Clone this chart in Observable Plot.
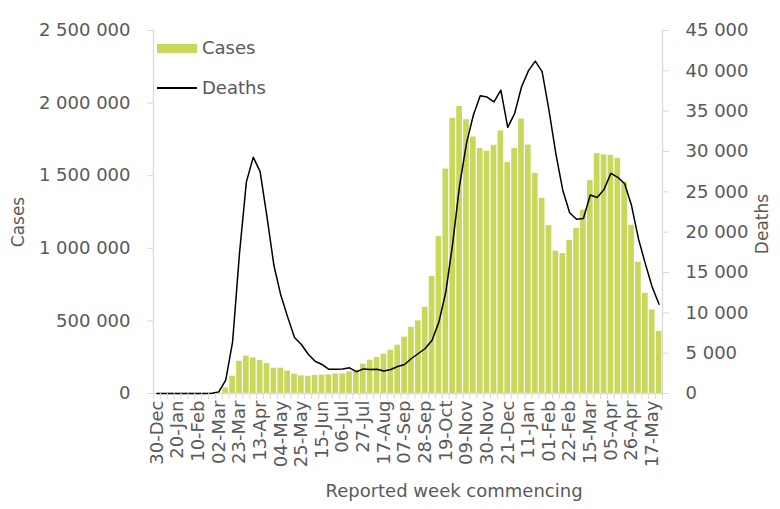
<!DOCTYPE html>
<html>
<head>
<meta charset="utf-8">
<script src="https://cdn.jsdelivr.net/npm/d3@7"></script>
<script src="https://cdn.jsdelivr.net/npm/@observablehq/plot@0.6"></script>
<style>
  html, body { margin: 0; padding: 0; background: #fff; }
  #wrap { position: relative; width: 780px; height: 509px; font-family: "DejaVu Sans", sans-serif; color: #595959; }
  .leg { position: absolute; font-size: 18px; line-height: 1; color: #595959; }
  .sw { position: absolute; }
</style>
</head>
<body>
<div id="wrap">
  <div id="chart"></div>
  <div class="sw" style="left:157px;top:44px;width:40px;height:9px;background:#c9d75c;"></div>
  <div class="leg" style="left:202px;top:39px;">Cases</div>
  <div class="sw" style="left:157px;top:87px;width:40px;height:2px;background:#000;"></div>
  <div class="leg" style="left:202px;top:79px;">Deaths</div>
</div>
<script>
// Week commencing labels (30-Dec-2019 to 24-May-2021)
const weeks = [
  "30-Dec","06-Jan","13-Jan","20-Jan","27-Jan","03-Feb","10-Feb","17-Feb","24-Feb","02-Mar",
  "09-Mar","16-Mar","23-Mar","30-Mar","06-Apr","13-Apr","20-Apr","27-Apr","04-May","11-May",
  "18-May","25-May","01-Jun","08-Jun","15-Jun","22-Jun","29-Jun","06-Jul","13-Jul","20-Jul",
  "27-Jul","03-Aug","10-Aug","17-Aug","24-Aug","31-Aug","07-Sep","14-Sep","21-Sep","28-Sep",
  "05-Oct","12-Oct","19-Oct","26-Oct","02-Nov","09-Nov","16-Nov","23-Nov","30-Nov","07-Dec",
  "14-Dec","21-Dec","28-Dec","04-Jan","11-Jan","18-Jan","25-Jan","01-Feb","08-Feb","15-Feb",
  "22-Feb","01-Mar","08-Mar","15-Mar","22-Mar","29-Mar","05-Apr","12-Apr","19-Apr","26-Apr",
  "03-May","10-May","17-May","24-May"
];
const cases = [
  0,0,0,0,0,0,0,0,0,2000,
  39000,119000,222000,257000,245000,227000,206000,174000,174000,154000,
  133000,122000,119000,124000,126000,128000,135000,135000,149000,156000,
  202000,229000,248000,271000,298000,333000,388000,456000,500000,594000,
  807000,1080000,1546000,1895000,1977000,1886000,1766000,1688000,1668000,1709000,
  1808000,1590000,1688000,1890000,1711000,1516000,1344000,1156000,980000,963000,
  1055000,1138000,1262000,1466000,1652000,1643000,1640000,1620000,1457000,1158000,
  904000,690000,576000,427000
];
const deaths = [
  0,0,0,0,0,0,0,0,20,200,
  1650,6400,17350,26200,29300,27500,21900,15900,12200,9500,
  6940,6070,4870,4000,3600,3000,3000,3050,3180,2700,
  3050,2970,3000,2800,2970,3350,3600,4340,4960,5580,
  6600,8880,12600,18600,25800,31000,34500,36900,36750,36150,
  37600,33000,34700,38000,40000,41200,39900,35100,29700,25200,
  22400,21600,21700,24600,24300,25300,27300,26800,26000,23300,
  19200,16100,13200,11070
];
const casesTicks = [0, 500000, 1000000, 1500000, 2000000, 2500000];
const deathsTicks = [0, 5000, 10000, 15000, 20000, 25000, 30000, 35000, 40000, 45000];

const k = 2500000 / 45000; // deaths -> cases scale
const data = weeks.map((w, i) => ({i, week: w, cases: cases[i], deaths: deaths[i]}));
const fmt = d3.formatLocale({decimal: ".", thousands: "\u00a0", grouping: [3], currency: ["", ""]}).format(",");
const gray = "#d9d9d9";
const txt = "#595959";
const labelIdx = d3.range(0, weeks.length, 3);

const chart = Plot.plot({
  width: 780,
  height: 509,
  marginLeft: 153,
  marginRight: 118,
  marginTop: 30,
  marginBottom: 116,
  style: {fontFamily: "DejaVu Sans, sans-serif", fontSize: "18px", color: txt, background: "#fff"},
  x: {type: "linear", domain: [0, weeks.length]},
  y: {domain: [0, 2500000]},
  marks: [
    Plot.ruleX([0, weeks.length], {stroke: gray, strokeWidth: 1.3}),
    Plot.rectY(data, {x1: "i", x2: d => d.i + 1, y: "cases", fill: "#c9d75c", insetLeft: 0.6, insetRight: 0.6}),
    Plot.ruleY([0], {stroke: gray, strokeWidth: 1.3}),
    Plot.line(data, {x: d => d.i + 0.5, y: d => d.deaths * k, stroke: "#000", strokeWidth: 1.5}),
    Plot.axisY({anchor: "left", ticks: casesTicks, tickFormat: fmt, tickSize: 6, tickPadding: 17, stroke: gray, fill: txt, label: null, fontSize: 18}),
    Plot.axisY({anchor: "right", ticks: deathsTicks.map(d => d * k), tickFormat: d => fmt(Math.round(d / k)), tickSize: 6, tickPadding: 17, stroke: gray, fill: txt, label: null, fontSize: 18}),
    Plot.axisX({ticks: d3.range(weeks.length + 1), tickFormat: () => "", tickSize: 6, stroke: gray, label: null}),
    Plot.axisX({ticks: labelIdx.map(i => i + 0.5), tickFormat: v => weeks[Math.floor(v)], tickSize: 0, tickPadding: 7, tickRotate: -90, fill: txt, label: null, fontSize: 18}),
    Plot.text(["Cases"], {frameAnchor: "left", dx: -135, rotate: -90, fill: txt, fontSize: 17, textAnchor: "middle", dy: 10}),
    Plot.text(["Deaths"], {frameAnchor: "right", dx: 100, rotate: -90, fill: txt, fontSize: 17, textAnchor: "middle", dy: 12}),
    Plot.text(["Reported week commencing"], {frameAnchor: "bottom", dy: 103, dx: 46, fill: txt, fontSize: 18, textAnchor: "middle"})
  ]
});
document.getElementById("chart").appendChild(chart);
</script>
</body>
</html>
